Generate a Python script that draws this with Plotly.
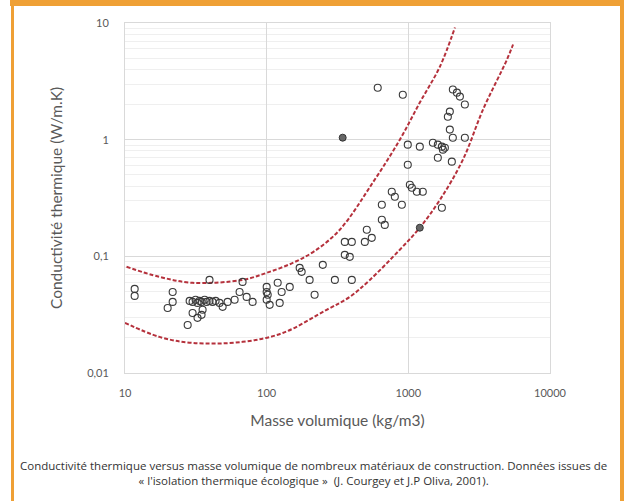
import plotly.graph_objects as go

# Matériaux : masse volumique (kg/m3) et conductivité thermique (W/m.K)
masse_volumique = [
    11.7, 11.7, 21.7, 21.7, 20.0, 27.7, 30.0, 34.7, 35.3, 32.5,
    28.6, 30.0, 31.5, 32.5, 33.6, 34.7, 36.5, 37.7, 39.5, 41.5, 43.6, 46.5,
    39.5, 48.9, 53.0, 59.4, 64.4, 72.2, 79.6, 67.6,
    100, 100, 101.7, 100, 105, 119.6, 127.6, 123.6, 145.5,
    171, 176.6, 201, 218, 249, 303, 399,
    356, 399, 493, 356, 386, 509, 552,
    650, 650, 682, 764, 803, 900, 1025, 1059, 1148, 1265, 991,
    1725, 991, 1205, 1490, 1615, 1725, 1811, 1754, 1615, 2028,
    1963, 2061, 2506, 1901, 1963, 2506, 2061, 2203, 2312, 608, 914,
]
conductivite = [
    0.0526, 0.0458, 0.0495, 0.0407, 0.0361, 0.0258, 0.0327, 0.0315, 0.0348, 0.0297,
    0.0415, 0.0407, 0.0424, 0.0399, 0.0415, 0.0407, 0.0424, 0.0407, 0.0415, 0.0407, 0.0415, 0.0399,
    0.0628, 0.0369, 0.0407, 0.0424, 0.0495, 0.0449, 0.0407, 0.0604,
    0.0547, 0.0495, 0.0468, 0.0424, 0.0384, 0.0593, 0.0495, 0.0399, 0.0547,
    0.0796, 0.0736, 0.0628, 0.0468, 0.0845, 0.0628, 0.0628,
    0.133, 0.133, 0.133, 0.103, 0.099, 0.169, 0.144,
    0.277, 0.206, 0.186, 0.358, 0.324, 0.277, 0.411, 0.387, 0.358, 0.358, 0.610,
    0.261, 0.906, 0.871, 0.942, 0.906, 0.871, 0.853, 0.821, 0.700, 0.648,
    1.22, 1.04, 1.04, 1.57, 1.74, 2.00, 2.69, 2.53, 2.34, 2.79, 2.43,
]
# Points pleins
masse_pleins = [344, 1205]
cond_pleins = [1.04, 0.176]

# Enveloppes (courbes rouges pointillées)
enveloppe_haute_x = [10.25, 17.5, 30.0, 67.7, 100, 153, 218, 328, 561, 871, 1205, 1671, 2133]
enveloppe_haute_y = [0.0813, 0.0667, 0.0593, 0.0628, 0.0722, 0.0879, 0.111, 0.169, 0.428, 1.00, 2.08, 4.23, 9.15]
enveloppe_basse_x = [10.0, 17.5, 30.0, 67.7, 129.7, 265, 386, 535, 871, 1205, 1671, 2427, 3365, 4969, 5483]
enveloppe_basse_y = [0.0269, 0.0204, 0.0181, 0.0185, 0.022, 0.0348, 0.0449, 0.0628, 0.114, 0.176, 0.305, 0.673, 1.81, 4.86, 6.54]

x_ticks = [10, 100, 1000, 10000]
x_ticktext = ["10", "100", "1000", "10000"]
y_ticks = [0.01, 0.1, 1, 10]
y_ticktext = ["0,01", "0,1", "1", "10"]

red = "#B5313C"
fig = go.Figure()
for xs, ys in [(enveloppe_haute_x, enveloppe_haute_y), (enveloppe_basse_x, enveloppe_basse_y)]:
    fig.add_trace(go.Scatter(x=xs, y=ys, mode="lines",
                             line=dict(color=red, width=2, dash="4px,2px", shape="spline"),
                             hoverinfo="skip", showlegend=False))
fig.add_trace(go.Scatter(x=masse_volumique, y=conductivite, mode="markers",
                         marker=dict(symbol="circle-open", size=7, color="#3a3a3a", line=dict(width=1.1)),
                         showlegend=False))
fig.add_trace(go.Scatter(x=masse_pleins, y=cond_pleins, mode="markers",
                         marker=dict(symbol="circle", size=7, color="#666666", line=dict(width=1, color="#333333")),
                         showlegend=False))

font = "Lato, 'Open Sans', sans-serif"
grid = "#d9d9d9"
fig.update_xaxes(type="log", range=[1, 4], tickvals=x_ticks, ticktext=x_ticktext,
                 showgrid=True, gridcolor=grid, gridwidth=1,
                 showline=True, linecolor=grid, mirror=True, zeroline=False,
                 ticks="", ticklabelstandoff=10,
                 tickfont=dict(family=font, size=11, color="#595959"),
                 title=dict(text="Masse volumique (kg/m3)", standoff=16,
                            font=dict(family=font, size=15.5, color="#595959")))
fig.update_yaxes(type="log", range=[-2, 1], tickvals=y_ticks, ticktext=y_ticktext,
                 showgrid=True, gridcolor=grid, gridwidth=1,
                 minor=dict(dtick="D1", showgrid=True, gridcolor="#efefef", gridwidth=1, ticks=""),
                 showline=True, linecolor=grid, mirror=True, zeroline=False,
                 ticks="", ticklabelstandoff=13,
                 tickfont=dict(family=font, size=11, color="#595959"),
                 title=dict(text="Conductivité thermique (W/m.K)", standoff=20,
                            font=dict(family=font, size=15.5, color="#595959")))

orange = "#EFA035"
def px_x(p):
    return (p - 125) / 425
def px_y(p):
    return (373 - p) / 350

shapes = [
    dict(type="rect", xref="paper", yref="paper", x0=px_x(10), x1=px_x(626), y0=px_y(6), y1=px_y(-2),
         fillcolor=orange, line=dict(width=0), layer="above"),
    dict(type="rect", xref="paper", yref="paper", x0=px_x(11), x1=px_x(14), y0=px_y(503), y1=px_y(-2),
         fillcolor=orange, line=dict(width=0), layer="above"),
    dict(type="rect", xref="paper", yref="paper", x0=px_x(620), x1=px_x(626), y0=px_y(503), y1=px_y(-2),
         fillcolor=orange, line=dict(width=0), layer="above"),
]

fig.update_layout(
    width=624, height=501,
    margin=dict(l=125, r=74, t=23, b=128),
    paper_bgcolor="white", plot_bgcolor="white",
    shapes=shapes,
    annotations=[dict(
        xref="paper", yref="paper", x=px_x(313), y=px_y(473), xanchor="center", yanchor="middle",
        showarrow=False, align="center",
        text="Conductivité thermique versus masse volumique de nombreux matériaux de construction. Données issues de<br>"
             "« l'isolation thermique écologique »  (J. Courgey et J.P Oliva, 2001).",
        font=dict(family="'Open Sans', sans-serif", size=11.5, color="#333333"))],
)

fig.write_html("out.html", config={"displayModeBar": False},
               post_script="document.body.style.margin='0';document.body.style.overflow='hidden';")
